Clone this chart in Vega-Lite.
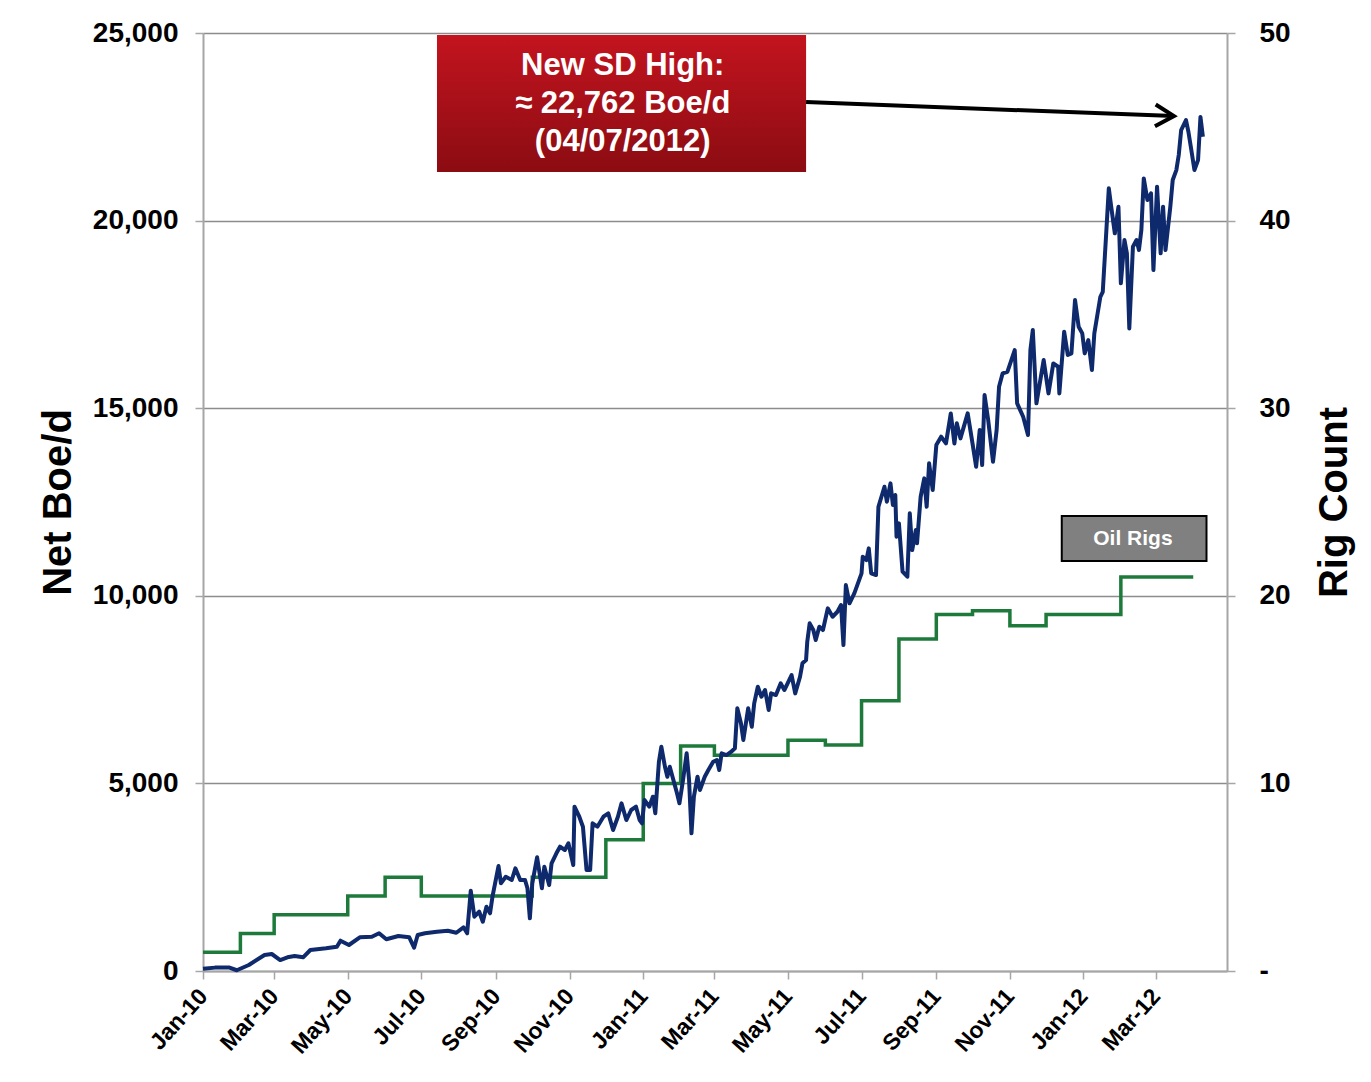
{
  "$schema": "https://vega.github.io/schema/vega-lite/v6.json",
  "width": 1024,
  "height": 938,
  "autosize": {"type": "none"},
  "padding": {"left": 203, "top": 33, "right": 144, "bottom": 111},
  "background": "white",
  "config": {
    "view": {"stroke": null},
    "font": "Liberation Sans",
    "axis": {
      "labelFont": "Liberation Sans",
      "labelFontWeight": "bold",
      "labelColor": "#000000",
      "titleFont": "Liberation Sans",
      "titleFontWeight": "bold",
      "titleColor": "#000000",
      "domainColor": "#a6a6a6",
      "domainWidth": 2,
      "tickColor": "#a6a6a6",
      "tickWidth": 1.5,
      "tickSize": 8
    },
    "axisX": {
      "title": null,
      "grid": false,
      "tickCount": {"interval": "month", "step": 2},
      "labelExpr": "['Jan','Feb','Mar','Apr','May','Jun','Jul','Aug','Sep','Oct','Nov','Dec'][utcmonth(datum.value)] + '-' + (utcyear(datum.value) % 100)",
      "labelAngle": -48,
      "labelAlign": "right",
      "labelBaseline": "middle",
      "labelFontSize": 23,
      "labelPadding": 13,
      "labelOverlap": false,
      "labelFlush": false
    }
  },
  "datasets": {
    "boe": [
      {"date": "2010-01-01", "boe": 60}, {"date": "2010-01-11", "boe": 90}, {"date": "2010-01-23", "boe": 90},
      {"date": "2010-01-29", "boe": 20}, {"date": "2010-02-08", "boe": 160}, {"date": "2010-02-21", "boe": 426},
      {"date": "2010-02-27", "boe": 453}, {"date": "2010-03-06", "boe": 293}, {"date": "2010-03-12", "boe": 365},
      {"date": "2010-03-18", "boe": 400}, {"date": "2010-03-25", "boe": 365}, {"date": "2010-03-31", "boe": 560},
      {"date": "2010-04-13", "boe": 605}, {"date": "2010-04-22", "boe": 648}, {"date": "2010-04-25", "boe": 808},
      {"date": "2010-05-02", "boe": 693}, {"date": "2010-05-11", "boe": 898}, {"date": "2010-05-21", "boe": 914},
      {"date": "2010-05-27", "boe": 1005}, {"date": "2010-06-02", "boe": 845}, {"date": "2010-06-12", "boe": 933},
      {"date": "2010-06-21", "boe": 898}, {"date": "2010-06-25", "boe": 621}, {"date": "2010-06-28", "boe": 960},
      {"date": "2010-07-04", "boe": 1005}, {"date": "2010-07-14", "boe": 1047}, {"date": "2010-07-23", "boe": 1074},
      {"date": "2010-07-30", "boe": 1020}, {"date": "2010-08-05", "boe": 1164}, {"date": "2010-08-08", "boe": 1005},
      {"date": "2010-08-11", "boe": 2140}, {"date": "2010-08-14", "boe": 1447}, {"date": "2010-08-18", "boe": 1580},
      {"date": "2010-08-21", "boe": 1314}, {"date": "2010-08-24", "boe": 1714}, {"date": "2010-08-27", "boe": 1538},
      {"date": "2010-08-29", "boe": 1980}, {"date": "2010-09-03", "boe": 2798}, {"date": "2010-09-05", "boe": 2337},
      {"date": "2010-09-09", "boe": 2513}, {"date": "2010-09-14", "boe": 2425}, {"date": "2010-09-17", "boe": 2737},
      {"date": "2010-09-21", "boe": 2425}, {"date": "2010-09-25", "boe": 2425}, {"date": "2010-09-27", "boe": 2204},
      {"date": "2010-09-29", "boe": 1404}, {"date": "2010-10-01", "boe": 2337}, {"date": "2010-10-05", "boe": 3030},
      {"date": "2010-10-09", "boe": 2204}, {"date": "2010-10-11", "boe": 2780}, {"date": "2010-10-15", "boe": 2292},
      {"date": "2010-10-17", "boe": 2870}, {"date": "2010-10-21", "boe": 3137}, {"date": "2010-10-24", "boe": 3313},
      {"date": "2010-10-28", "boe": 3225}, {"date": "2010-10-31", "boe": 3403}, {"date": "2010-11-04", "boe": 2825},
      {"date": "2010-11-05", "boe": 4379}, {"date": "2010-11-09", "boe": 4112}, {"date": "2010-11-12", "boe": 3846},
      {"date": "2010-11-15", "boe": 2692}, {"date": "2010-11-18", "boe": 2692}, {"date": "2010-11-20", "boe": 3936},
      {"date": "2010-11-24", "boe": 3846}, {"date": "2010-11-29", "boe": 4112}, {"date": "2010-12-03", "boe": 4203},
      {"date": "2010-12-07", "boe": 3758}, {"date": "2010-12-11", "boe": 4112}, {"date": "2010-12-14", "boe": 4469},
      {"date": "2010-12-18", "boe": 4024}, {"date": "2010-12-22", "boe": 4291}, {"date": "2010-12-26", "boe": 4379},
      {"date": "2010-12-29", "boe": 4024}, {"date": "2010-12-31", "boe": 3936}, {"date": "2011-01-02", "boe": 4557},
      {"date": "2011-01-06", "boe": 4379}, {"date": "2011-01-09", "boe": 4645}, {"date": "2011-01-11", "boe": 4203},
      {"date": "2011-01-14", "boe": 5578}, {"date": "2011-01-16", "boe": 5978}, {"date": "2011-01-19", "boe": 5444},
      {"date": "2011-01-21", "boe": 5178}, {"date": "2011-01-23", "boe": 5444}, {"date": "2011-01-26", "boe": 5090},
      {"date": "2011-01-29", "boe": 4735}, {"date": "2011-01-31", "boe": 4469}, {"date": "2011-02-03", "boe": 5090},
      {"date": "2011-02-06", "boe": 5802}, {"date": "2011-02-08", "boe": 5090}, {"date": "2011-02-10", "boe": 3670},
      {"date": "2011-02-12", "boe": 4645}, {"date": "2011-02-15", "boe": 5178}, {"date": "2011-02-17", "boe": 4824},
      {"date": "2011-02-21", "boe": 5178}, {"date": "2011-02-24", "boe": 5357}, {"date": "2011-02-28", "boe": 5578},
      {"date": "2011-03-03", "boe": 5623}, {"date": "2011-03-05", "boe": 5357}, {"date": "2011-03-07", "boe": 5802},
      {"date": "2011-03-11", "boe": 5756}, {"date": "2011-03-15", "boe": 5845}, {"date": "2011-03-18", "boe": 5935},
      {"date": "2011-03-20", "boe": 7001}, {"date": "2011-03-23", "boe": 6601}, {"date": "2011-03-25", "boe": 6156},
      {"date": "2011-03-29", "boe": 7001}, {"date": "2011-04-01", "boe": 6511}, {"date": "2011-04-03", "boe": 7134},
      {"date": "2011-04-06", "boe": 7577}, {"date": "2011-04-09", "boe": 7310}, {"date": "2011-04-12", "boe": 7489},
      {"date": "2011-04-15", "boe": 6956}, {"date": "2011-04-17", "boe": 7400}, {"date": "2011-04-21", "boe": 7355},
      {"date": "2011-04-25", "boe": 7667}, {"date": "2011-04-28", "boe": 7489}, {"date": "2011-05-04", "boe": 7888},
      {"date": "2011-05-07", "boe": 7400}, {"date": "2011-05-11", "boe": 7843}, {"date": "2011-05-13", "boe": 8200},
      {"date": "2011-05-16", "boe": 8288}, {"date": "2011-05-17", "boe": 8776}, {"date": "2011-05-19", "boe": 9266},
      {"date": "2011-05-22", "boe": 9088}, {"date": "2011-05-24", "boe": 8821}, {"date": "2011-05-27", "boe": 9176},
      {"date": "2011-05-30", "boe": 9088}, {"date": "2011-06-03", "boe": 9666}, {"date": "2011-06-07", "boe": 9442},
      {"date": "2011-06-11", "boe": 9575}, {"date": "2011-06-14", "boe": 9754}, {"date": "2011-06-16", "boe": 8688},
      {"date": "2011-06-18", "boe": 10287}, {"date": "2011-06-21", "boe": 9799}, {"date": "2011-06-25", "boe": 10065},
      {"date": "2011-07-01", "boe": 10598}, {"date": "2011-07-02", "boe": 11042}, {"date": "2011-07-05", "boe": 10953},
      {"date": "2011-07-07", "boe": 11264}, {"date": "2011-07-09", "boe": 10598}, {"date": "2011-07-13", "boe": 10553},
      {"date": "2011-07-15", "boe": 12374}, {"date": "2011-07-20", "boe": 12907}, {"date": "2011-07-22", "boe": 12507},
      {"date": "2011-07-25", "boe": 12996}, {"date": "2011-07-27", "boe": 12419}, {"date": "2011-07-29", "boe": 12685},
      {"date": "2011-07-30", "boe": 11574}, {"date": "2011-08-01", "boe": 11931}, {"date": "2011-08-04", "boe": 10642},
      {"date": "2011-08-08", "boe": 10508}, {"date": "2011-08-10", "boe": 12197}, {"date": "2011-08-12", "boe": 11220},
      {"date": "2011-08-15", "boe": 11753}, {"date": "2011-08-16", "boe": 11398}, {"date": "2011-08-19", "boe": 12640},
      {"date": "2011-08-22", "boe": 13130}, {"date": "2011-08-24", "boe": 12374}, {"date": "2011-08-26", "boe": 13530},
      {"date": "2011-08-29", "boe": 12818}, {"date": "2011-09-01", "boe": 14018}, {"date": "2011-09-05", "boe": 14240},
      {"date": "2011-09-09", "boe": 14062}, {"date": "2011-09-13", "boe": 14861}, {"date": "2011-09-16", "boe": 14062},
      {"date": "2011-09-18", "boe": 14596}, {"date": "2011-09-21", "boe": 14196}, {"date": "2011-09-27", "boe": 14861},
      {"date": "2011-10-01", "boe": 14062}, {"date": "2011-10-04", "boe": 13440}, {"date": "2011-10-07", "boe": 14418},
      {"date": "2011-10-09", "boe": 13485}, {"date": "2011-10-11", "boe": 15350}, {"date": "2011-10-14", "boe": 14684},
      {"date": "2011-10-18", "boe": 13574}, {"date": "2011-10-21", "boe": 14418}, {"date": "2011-10-23", "boe": 15572},
      {"date": "2011-10-26", "boe": 15929}, {"date": "2011-10-30", "boe": 15972}, {"date": "2011-11-05", "boe": 16550},
      {"date": "2011-11-07", "boe": 15129}, {"date": "2011-11-12", "boe": 14773}, {"date": "2011-11-16", "boe": 14284},
      {"date": "2011-11-18", "boe": 16550}, {"date": "2011-11-20", "boe": 17083}, {"date": "2011-11-23", "boe": 15129},
      {"date": "2011-11-29", "boe": 16283}, {"date": "2011-12-03", "boe": 15395}, {"date": "2011-12-07", "boe": 16194},
      {"date": "2011-12-11", "boe": 16105}, {"date": "2011-12-12", "boe": 15395}, {"date": "2011-12-16", "boe": 17037},
      {"date": "2011-12-19", "boe": 16417}, {"date": "2011-12-22", "boe": 16461}, {"date": "2011-12-25", "boe": 17882},
      {"date": "2011-12-28", "boe": 17171}, {"date": "2011-12-31", "boe": 16994}, {"date": "2012-01-02", "boe": 16461},
      {"date": "2012-01-05", "boe": 16816}, {"date": "2012-01-08", "boe": 16016}, {"date": "2012-01-10", "boe": 16994},
      {"date": "2012-01-15", "boe": 17970}, {"date": "2012-01-17", "boe": 18103}, {"date": "2012-01-20", "boe": 19748},
      {"date": "2012-01-22", "boe": 20859}, {"date": "2012-01-24", "boe": 20370}, {"date": "2012-01-27", "boe": 19660},
      {"date": "2012-01-30", "boe": 20370}, {"date": "2012-02-01", "boe": 18327}, {"date": "2012-02-04", "boe": 19482},
      {"date": "2012-02-06", "boe": 19127}, {"date": "2012-02-08", "boe": 17126}, {"date": "2012-02-11", "boe": 19304},
      {"date": "2012-02-14", "boe": 19482}, {"date": "2012-02-16", "boe": 19215}, {"date": "2012-02-18", "boe": 19748},
      {"date": "2012-02-20", "boe": 21125}, {"date": "2012-02-23", "boe": 20548}, {"date": "2012-02-26", "boe": 20726},
      {"date": "2012-02-28", "boe": 18682}, {"date": "2012-03-02", "boe": 20904}, {"date": "2012-03-05", "boe": 19127},
      {"date": "2012-03-07", "boe": 20370}, {"date": "2012-03-09", "boe": 19215}, {"date": "2012-03-13", "boe": 20370},
      {"date": "2012-03-15", "boe": 21081}, {"date": "2012-03-18", "boe": 21347}, {"date": "2012-03-20", "boe": 21747},
      {"date": "2012-03-22", "boe": 22413}, {"date": "2012-03-26", "boe": 22679}, {"date": "2012-03-28", "boe": 22368},
      {"date": "2012-03-30", "boe": 21969}, {"date": "2012-04-02", "boe": 21347}, {"date": "2012-04-05", "boe": 21614},
      {"date": "2012-04-07", "boe": 22762}, {"date": "2012-04-09", "boe": 22235}
    ],
    "rigs": [
      {"date": "2010-01-01", "rigs": 1}, {"date": "2010-02-01", "rigs": 2}, {"date": "2010-03-01", "rigs": 3},
      {"date": "2010-05-01", "rigs": 4}, {"date": "2010-06-01", "rigs": 5}, {"date": "2010-07-01", "rigs": 4},
      {"date": "2010-10-01", "rigs": 5}, {"date": "2010-12-01", "rigs": 7}, {"date": "2011-01-01", "rigs": 10},
      {"date": "2011-02-01", "rigs": 12}, {"date": "2011-03-01", "rigs": 11.5}, {"date": "2011-05-01", "rigs": 12.3},
      {"date": "2011-06-01", "rigs": 12.05}, {"date": "2011-07-01", "rigs": 14.4}, {"date": "2011-08-01", "rigs": 17.7},
      {"date": "2011-09-01", "rigs": 19.0}, {"date": "2011-10-01", "rigs": 19.2}, {"date": "2011-11-01", "rigs": 18.4},
      {"date": "2011-12-01", "rigs": 19.0}, {"date": "2012-02-01", "rigs": 21.0}, {"date": "2012-04-01", "rigs": 21.0}
    ]
  },
  "layer": [
    {
      "data": {"name": "rigs"},
      "mark": {"type": "line", "interpolate": "step-after", "color": "#1d7a3a", "strokeWidth": 3.5},
      "encoding": {
        "x": {
          "field": "date",
          "type": "temporal",
          "scale": {"type": "utc", "domain": ["2010-01-01", "2012-04-29"]}
        },
        "y": {
          "field": "rigs",
          "type": "quantitative",
          "scale": {"domain": [0, 50], "nice": false},
          "axis": {
            "orient": "right",
            "title": "Rig Count",
            "titleFontSize": 40,
            "titleAngle": 270,
            "titleBaseline": "top",
            "titlePadding": 24,
            "values": [0, 10, 20, 30, 40, 50],
            "labelExpr": "datum.value == 0 ? '-' : datum.label",
            "labelFontSize": 28,
            "labelPadding": 24,
            "grid": false
          }
        }
      }
    },
    {
      "data": {"name": "boe"},
      "mark": {"type": "line", "color": "#0e2a6c", "strokeWidth": 4, "strokeJoin": "round"},
      "encoding": {
        "x": {"field": "date", "type": "temporal"},
        "y": {
          "field": "boe",
          "type": "quantitative",
          "scale": {"domain": [0, 25000], "nice": false},
          "axis": {
            "orient": "left",
            "title": "Net Boe/d",
            "titleFontSize": 40,
            "titlePadding": 14,
            "values": [0, 5000, 10000, 15000, 20000, 25000],
            "labelExpr": "datum.value == 0 ? '0' : floor(datum.value / 1000) + ',000'",
            "labelFontSize": 28,
            "labelPadding": 17,
            "grid": true,
            "gridColor": "#8c8c8c",
            "gridWidth": 1.3
          }
        }
      }
    },
    {
      "data": {"values": [{"note": "high"}]},
      "mark": {"type": "rect", "color": "#000000", "opacity": 0.25, "xOffset": 3, "yOffset": 5},
      "encoding": {
        "x": {"datum": {"year": 2010, "month": 7, "date": 14, "utc": true}, "type": "temporal"},
        "x2": {"datum": {"year": 2011, "month": 5, "date": 16, "utc": true}},
        "y": {"datum": 24947, "type": "quantitative", "scale": {"domain": [0, 25000], "nice": false}, "axis": null},
        "y2": {"datum": 21293}
      }
    },
    {
      "data": {"values": [{"note": "high"}]},
      "mark": {
        "type": "rect",
        "color": {
          "gradient": "linear",
          "x1": 0, "y1": 0, "x2": 0, "y2": 1,
          "stops": [{"offset": 0, "color": "#c3141f"}, {"offset": 1, "color": "#8b0c12"}]
        }
      },
      "encoding": {
        "x": {"datum": {"year": 2010, "month": 7, "date": 14, "utc": true}, "type": "temporal"},
        "x2": {"datum": {"year": 2011, "month": 5, "date": 16, "utc": true}},
        "y": {"datum": 24947, "type": "quantitative", "scale": {"domain": [0, 25000], "nice": false}, "axis": null},
        "y2": {"datum": 21293}
      }
    },
    {
      "data": {"values": [{"note": "high"}]},
      "mark": {
        "type": "text",
        "text": ["New SD High:", "≈ 22,762 Boe/d", "(04/07/2012)"],
        "font": "Liberation Sans",
        "fontWeight": "bold",
        "fontSize": 31,
        "lineHeight": 38,
        "color": "#ffffff",
        "align": "center",
        "baseline": "middle"
      },
      "encoding": {
        "x": {"datum": {"year": 2010, "month": 12, "date": 15, "utc": true}, "type": "temporal"},
        "y": {"datum": 24118, "type": "quantitative", "scale": {"domain": [0, 25000], "nice": false}, "axis": null}
      }
    },
    {
      "data": {"values": [{"note": "high"}]},
      "mark": {"type": "rule", "color": "#000000", "strokeWidth": 4},
      "encoding": {
        "x": {"datum": {"year": 2011, "month": 5, "date": 16, "utc": true}, "type": "temporal"},
        "x2": {"datum": {"year": 2012, "month": 3, "date": 16, "utc": true}},
        "y": {"datum": 23159, "type": "quantitative", "scale": {"domain": [0, 25000], "nice": false}, "axis": null},
        "y2": {"datum": 22786}
      }
    },
    {
      "data": {"values": [{"note": "high"}]},
      "mark": {
        "type": "point",
        "shape": "M-1.7,-1L0,0L-1.7,1",
        "filled": false,
        "stroke": "#000000",
        "strokeWidth": 4,
        "size": 480,
        "angle": 2,
        "opacity": 1
      },
      "encoding": {
        "x": {"datum": {"year": 2012, "month": 3, "date": 16, "utc": true}, "type": "temporal"},
        "y": {"datum": 22786, "type": "quantitative", "scale": {"domain": [0, 25000], "nice": false}, "axis": null}
      }
    },
    {
      "data": {"values": [{"note": "rigs"}]},
      "mark": {"type": "rect", "color": "#808080", "stroke": "#000000", "strokeWidth": 2},
      "encoding": {
        "x": {"datum": {"year": 2011, "month": 12, "date": 14, "utc": true}, "type": "temporal"},
        "x2": {"datum": {"year": 2012, "month": 4, "date": 12, "utc": true}},
        "y": {"datum": 12126, "type": "quantitative", "scale": {"domain": [0, 25000], "nice": false}, "axis": null},
        "y2": {"datum": 10927}
      }
    },
    {
      "data": {"values": [{"note": "rigs"}]},
      "mark": {
        "type": "text",
        "text": "Oil Rigs",
        "font": "Liberation Sans",
        "fontWeight": "bold",
        "fontSize": 21,
        "color": "#ffffff",
        "align": "center",
        "baseline": "middle"
      },
      "encoding": {
        "x": {"datum": {"year": 2012, "month": 2, "date": 11, "utc": true}, "type": "temporal"},
        "y": {"datum": 11513, "type": "quantitative", "scale": {"domain": [0, 25000], "nice": false}, "axis": null}
      }
    }
  ],
  "resolve": {"scale": {"y": "independent"}}
}
